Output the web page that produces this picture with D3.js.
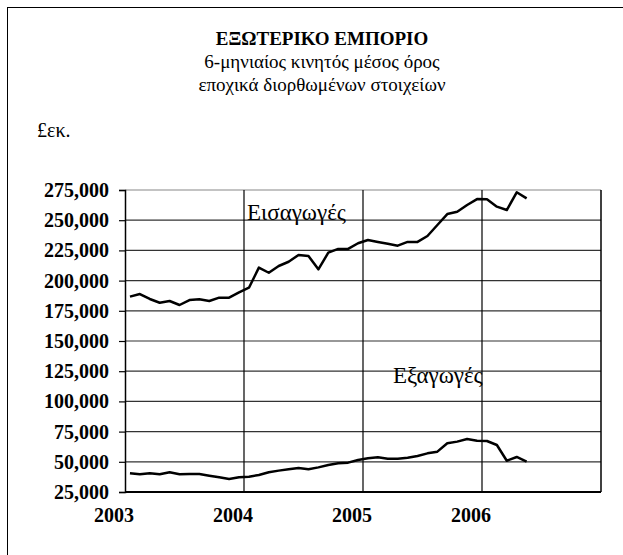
<!DOCTYPE html>
<html>
<head>
<meta charset="utf-8">
<script src="https://cdn.jsdelivr.net/npm/d3@7"></script>
<style>
  body { margin: 0; background: #fff; }
</style>
</head>
<body>
<div id="chart"></div>
<script>
// monthly 6-month moving average, Jan 2003 - May 2006 (£ thousand)
const startYear = 2003;
const imports = [
    186.7, 188.9, 184.8, 181.7, 183.1, 179.8, 183.9, 184.5, 183.1, 185.9, 185.9, 190.3,
    194.1, 210.7, 206.5, 212.1, 215.6, 221.2, 220.4, 209.3, 223.1, 226.2, 226.2, 230.9,
    233.6, 232.0, 230.5, 228.9, 232.0, 232.0, 236.9, 246.0, 255.1, 257.0, 262.6, 267.5,
    267.3, 261.2, 258.4, 273.1, 268.1
];
const exports_ = [
    40.5, 39.7, 40.5, 39.7, 41.3, 39.7, 39.9, 39.9, 38.5, 37.2, 35.8, 37.2,
    37.7, 39.1, 41.3, 42.7, 43.8, 44.9, 43.8, 45.4, 47.4, 48.8, 49.3, 51.5,
    52.9, 53.7, 52.6, 52.6, 53.4, 54.8, 57.0, 58.4, 65.3, 66.7, 68.9, 67.5,
    67.2, 63.9, 50.9, 54.0, 50.1
];
const yearTicks = [2003, 2004, 2005, 2006];
const yTicks = [25000, 50000, 75000, 100000, 125000, 150000, 175000, 200000, 225000, 250000, 275000];

const FONT = "'Liberation Serif', 'Times New Roman', serif";

const width = 623, height = 555;
const margin = { left: 125, right: 22, top: 190, bottom: 63 };

const svg = d3.select("#chart").append("svg")
    .attr("width", width)
    .attr("height", height);

// outer frame (only left/top edges fall inside the picture)
svg.append("rect")
    .attr("x", 7.5).attr("y", 7.5)
    .attr("width", width + 20).attr("height", height + 20)
    .attr("fill", "none").attr("stroke", "#000").attr("stroke-width", 1);

const x = d3.scaleLinear()
    .domain([startYear, 2007])
    .range([margin.left, width - margin.right]);

const y = d3.scaleLinear()
    .domain([25000, 275000])
    .range([height - margin.bottom, margin.top]);

// horizontal grid
svg.append("g")
    .selectAll("line")
    .data(yTicks.filter(d => d > 25000))
    .enter().append("line")
    .attr("x1", margin.left).attr("x2", width - margin.right)
    .attr("y1", d => y(d)).attr("y2", d => y(d))
    .attr("stroke", d => d === 275000 ? "#888" : "#333")
    .attr("stroke-width", 1.2);

// vertical grid at year boundaries
svg.append("g")
    .selectAll("line")
    .data(yearTicks.slice(1).concat([2007]))
    .enter().append("line")
    .attr("x1", d => x(d)).attr("x2", d => x(d))
    .attr("y1", margin.top).attr("y2", height - margin.bottom)
    .attr("stroke", "#000")
    .attr("stroke-width", d => d === 2007 ? 1.5 : 1.2);

// y axis
const yAxis = d3.axisLeft(y)
    .tickValues(yTicks)
    .tickSize(6)
    .tickPadding(10)
    .tickFormat(d3.format(","));

const gy = svg.append("g")
    .attr("transform", `translate(${margin.left},0)`)
    .call(yAxis);
gy.select(".domain").attr("stroke", "#000").attr("stroke-width", 1.5);
gy.selectAll(".tick line").attr("stroke", "#000").attr("stroke-width", 1.2);
gy.selectAll(".tick text")
    .style("font-family", FONT)
    .style("font-size", "20px")
    .style("font-weight", "bold")
    .attr("fill", "#000");

// x axis line
svg.append("line")
    .attr("x1", margin.left).attr("x2", width - margin.right)
    .attr("y1", y(25000)).attr("y2", y(25000))
    .attr("stroke", "#000").attr("stroke-width", 2);

// year labels
svg.append("g")
    .selectAll("text")
    .data(yearTicks)
    .enter().append("text")
    .attr("x", d => x(d) - 11)
    .attr("y", 522)
    .attr("text-anchor", "middle")
    .style("font-family", FONT)
    .style("font-size", "20px")
    .style("font-weight", "bold")
    .text(d => d);

// lines
const monthX = i => x(startYear + (i + 0.5) / 12);
const line = d3.line()
    .x((d, i) => monthX(i))
    .y(d => y(d * 1000));

[imports, exports_].forEach(series => {
    svg.append("path")
        .datum(series)
        .attr("d", line)
        .attr("fill", "none")
        .attr("stroke", "#000")
        .attr("stroke-width", 2.5)
        .attr("stroke-linejoin", "round");
});

function label(xp, yp, txt, size, bold, anchor) {
    svg.append("text")
        .attr("x", xp).attr("y", yp)
        .attr("text-anchor", anchor || "start")
        .style("font-family", FONT)
        .style("font-size", size + "px")
        .style("font-weight", bold ? "bold" : "normal")
        .text(txt);
}

// series labels
label(247, 220, "Εισαγωγές", 23);
label(393, 383, "Εξαγωγές", 23);

// titles
const cx = 322;
label(cx, 45, "ΕΞΩΤΕΡΙΚΟ ΕΜΠΟΡΙΟ", 19, true, "middle");
label(cx, 68, "6-μηνιαίος κινητός μέσος όρος", 19, false, "middle");
label(cx, 91, "εποχικά διορθωμένων στοιχείων", 19, false, "middle");

label(37, 137, "£εκ.", 20);
</script>
</body>
</html>
